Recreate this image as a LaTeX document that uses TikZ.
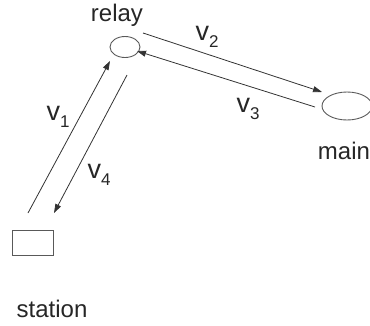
\documentclass[tikz,border=0pt]{standalone}
\usepackage{fontspec}
\setmainfont{Liberation Sans}
\usetikzlibrary{arrows.meta,shapes.geometric}
\newcommand{\vlab}[1]{{\fontsize{27}{27}\selectfont v}\raisebox{-0.5ex}{\fontsize{17}{17}\selectfont #1}}
\begin{document}
\begin{tikzpicture}[x=1pt,y=-1pt,
  txt/.style={inner sep=0pt,font=\fontsize{24}{24}\selectfont,text=black!85},
  shp/.style={draw=black!65,line width=0.9pt},
  arr/.style={draw=black!80,line width=0.8pt,-{Triangle[length=9pt,width=6pt]}}]
\useasboundingbox (0,0) rectangle (370,325);
\node[txt] (relaylab) at (117,15) {relay};
\node[txt] (stationlab) at (52,309) {station};
\node[txt] (mainlab) at (344,151) {main};
\node[shp,ellipse,minimum width=30pt,minimum height=21pt,inner sep=0pt] (relay) at (125,47) {};
\node[shp,ellipse,minimum width=50pt,minimum height=28pt,inner sep=0pt] (main) at (347,106) {};
\node[shp,rectangle,minimum width=41pt,minimum height=25pt,inner sep=0pt] (station) at (32.5,242.5) {};
\node[txt] (v1) at (58,117) {\vlab{1}};
\node[txt] (v4) at (99,175) {\vlab{4}};
\node[txt] (v2) at (207,37) {\vlab{2}};
\node[txt] (v3) at (248,109) {\vlab{3}};
\coordinate (s1) at (28,213);
\coordinate (r1) at (110,61);
\coordinate (r4) at (127,75);
\coordinate (s4) at (54,213);
\coordinate (r2) at (143,33);
\coordinate (m2) at (322,92);
\coordinate (m3) at (315,107);
\coordinate (r3) at (137,51);
\draw[arr] (s1) -- (r1);
\draw[arr] (r4) -- (s4);
\draw[arr] (r2) -- (m2);
\draw[arr] (m3) -- (r3);
\end{tikzpicture}
\end{document}
